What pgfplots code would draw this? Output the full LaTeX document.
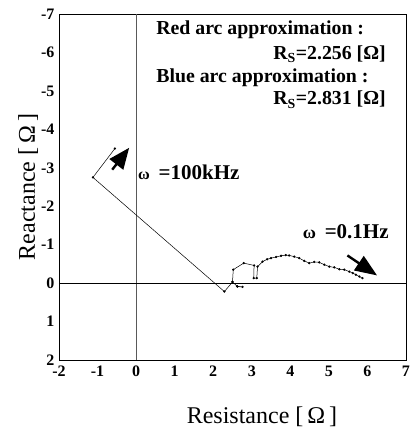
\documentclass[border=0pt]{standalone}
\usepackage{pgfplots}
\pgfplotsset{compat=1.18}
\usepackage{fontspec}
\setmainfont{Liberation Serif}
\usetikzlibrary{arrows.meta}
\pgfplotstableread{
x y
-0.55 -3.50
-1.12 -2.75
2.29 0.22
2.50 -0.03
2.63 0.09
2.76 0.10
2.62 0.08
2.50 -0.03
2.52 -0.35
2.79 -0.52
3.06 -0.46
3.05 -0.13
3.13 -0.13
3.15 -0.43
3.28 -0.56
3.40 -0.62
3.50 -0.65
3.63 -0.68
3.76 -0.71
3.88 -0.73
3.97 -0.72
4.10 -0.69
4.23 -0.65
4.36 -0.58
4.49 -0.52
4.62 -0.55
4.75 -0.54
4.88 -0.48
5.01 -0.43
5.14 -0.41
5.27 -0.36
5.40 -0.35
5.53 -0.30
5.62 -0.26
5.70 -0.22
5.79 -0.17
5.87 -0.13
}\datatable
\begin{document}
\begin{tikzpicture}
\useasboundingbox (0pt,0pt) rectangle (414pt,431pt);
\begin{axis}[
  at={(59pt,71pt)}, anchor=south west,
  scale only axis, width=347pt, height=346pt,
  xmin=-2, xmax=7, ymin=-7, ymax=2,
  y dir=reverse,
  xtick={-2,...,7}, ytick={-7,...,2},
  major tick length=0pt,
  axis line style={line width=0.6pt},
  /pgf/number format/assume math mode=true,
  ticklabel style={font=\fontsize{16}{16}\selectfont\bfseries},
  xticklabel style={yshift=-2pt},
  yticklabel style={xshift=-1pt},
  xlabel={Resistance [\,Ω\,]},
  ylabel={Reactance [\,Ω\,]},
  xlabel style={font=\fontsize{24}{24}\selectfont, at={(axis description cs:0.585,-0.165)}, anchor=center},
  ylabel style={font=\fontsize{24}{24}\selectfont, at={(axis description cs:-0.089,0.5)}, anchor=center},
  clip=false,
]
\draw[gray!70!black, line width=0.6pt] (axis cs:0,-7) -- (axis cs:0,2);
\draw[black, line width=0.8pt] (axis cs:-2,0) -- (axis cs:7,0);
\addplot[black, line width=0.5pt, mark=*, mark size=0.9pt] table[x=x,y=y] {\datatable};
\draw[line width=2.4pt, -{Triangle[length=21pt,width=17pt]}] (axis cs:-0.62,-2.95) -- (axis cs:-0.18,-3.52);
\draw[line width=2.4pt, -{Triangle[length=22pt,width=17pt]}] (axis cs:5.48,-0.72) -- (axis cs:6.25,-0.20);
\node[anchor=west, inner sep=0pt, font=\fontsize{19.8}{19.8}\selectfont\bfseries] at (axis cs:0.52,-6.60) {Red arc approximation :};
\node[anchor=east, inner sep=0pt, font=\fontsize{19.8}{19.8}\selectfont\bfseries] at (axis cs:6.48,-5.95) {R\textsubscript{S}=2.256 [Ω]};
\node[anchor=west, inner sep=0pt, font=\fontsize{19.8}{19.8}\selectfont\bfseries] at (axis cs:0.52,-5.35) {Blue arc approximation :};
\node[anchor=east, inner sep=0pt, font=\fontsize{19.8}{19.8}\selectfont\bfseries] at (axis cs:6.48,-4.77) {R\textsubscript{S}=2.831 [Ω]};
\node[anchor=west, inner sep=0pt, font=\fontsize{21}{21}\selectfont\bfseries] at (axis cs:0.05,-2.87) {{\fontsize{16}{16}\selectfont ω}\, =100kHz};
\node[anchor=west, inner sep=0pt, font=\fontsize{21}{21}\selectfont\bfseries] at (axis cs:4.32,-1.34) {{\fontsize{18}{18}\selectfont ω}\, =0.1Hz};
\end{axis}
\end{tikzpicture}
\end{document}
